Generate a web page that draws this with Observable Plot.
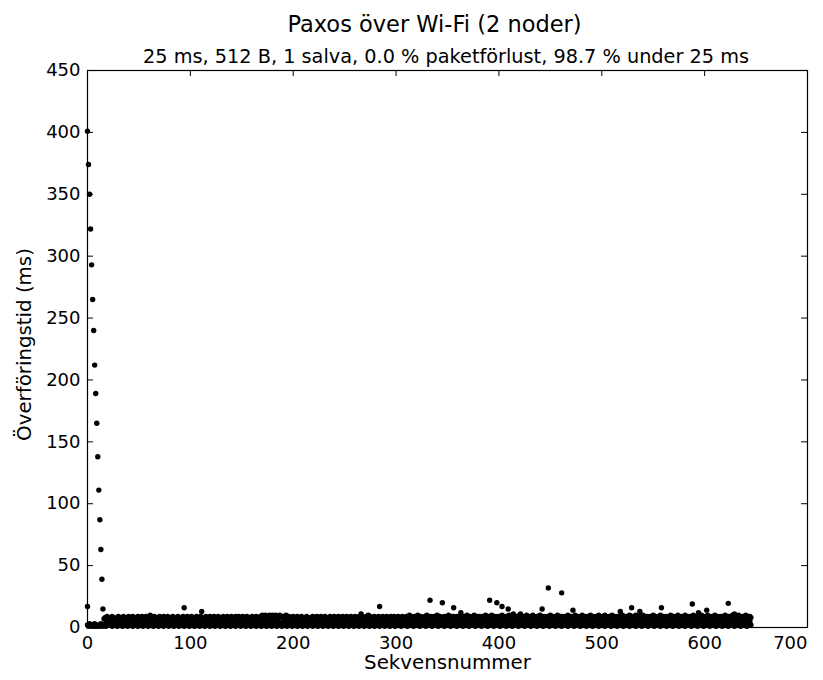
<!DOCTYPE html>
<html><head><meta charset="utf-8">
<script src="https://cdn.jsdelivr.net/npm/d3@7"></script>
<script src="https://cdn.jsdelivr.net/npm/@observablehq/plot@0.6"></script>
<style>
body{margin:0;background:#fff;font-family:"DejaVu Sans",sans-serif;}
#wrap{position:relative;width:823px;height:680px;overflow:hidden;}
.t{position:absolute;transform:translateX(-50%);color:#000;white-space:nowrap;line-height:1.2;}
#chart{position:absolute;left:0;top:0;}
</style></head><body>
<div id="wrap">
<div id="chart"></div>
<div class="t" style="left:434.5px;top:11px;font-size:22.5px;">Paxos över Wi-Fi (2 noder)</div>
<div class="t" style="left:446px;top:44.5px;font-size:19.3px;">25 ms, 512 B, 1 salva, 0.0 % paketförlust, 98.7 % under 25 ms</div>
</div>
<script>
// Decay of the first packets (x = 0..15)
const decay = [401, 374, 350, 322, 293, 265, 240, 212, 189, 165, 138, 111, 87, 63, 39, 15];
// Node A transfer times (ms), one character per sequence number (base 36, a = 10), starting at x = 16
const nodeA = [
"78697586978675968759685796879685796879586978596879",
"68579687958697586975869758697859687975869785968579",
"58697869587968579687958697859879685978695786958697",
"8697a98a979a89a98a978a99897a9897869785968796857968",
"68795869785968796857968795869785968795869785968797",
"59687958697869586978596879786987968795869786958a97",
"69789a87968798a986978969a8796879869a87969869798a96",
"978a969789a8796979897a98969a789869798a978969a87968",
"7989a869798a87968a987969a897986979a898697a98969789",
"8a979689a879869a9789697a8986979a89697a986979a89869",
"7989a869798a87968a987969a897986979a898697a98969789",
"8a979689a879869a9789697a8986979a89697a986979a89869",
"7989a869798a87968a987969a89798"
];
// Node B transfer times (ms), one digit per sequence number, starting at x = 0
const nodeB = [
"21321213121213212313425314253142531425314253152431",
"35241532415243152431425314253162431524314253162531",
"52431524314253142531624315243142531625315243152431",
"42531425316243152431425316253152431524314253142531",
"35241532415243152431425314253162431524314253162531",
"52431524314253142531624315243142531625315243152431",
"43526143526143526143526143526143526143526143526143",
"52614352614352614352614352614352614352614352614352",
"61435261435261435261435261435261435261435261435261",
"43526143526143526143526143526143526143526143526143",
"52614352614352614352614352614352614352614352614352",
"61435261435261435261435261435261435261435261435261",
"4352614352614352614352614352614352614352614352"
];
// Isolated higher points [sequence number, ms]
const outliers = [[0,17],[61,10],[94,16],[111,13],[266,11],[273,10],[284,17],[333,22],[345,20],[356,16],[363,12],[391,22],[398,20],[403,17],[409,15],[414,11],[421,11],[442,15],[448,32],[461,28],[472,14],[518,13],[529,16],[537,13],[558,16],[588,19],[594,12],[602,14],[623,19.5],[629,11]];
const xTicks = [0, 100, 200, 300, 400, 500, 600, 700];
const yTicks = [0, 50, 100, 150, 200, 250, 300, 350, 400, 450];

const pts = [];
decay.forEach((v, i) => pts.push({x: i, y: v}));
nodeA.join("").split("").forEach((c, i) => pts.push({x: 16 + i, y: parseInt(c, 36)}));
nodeB.join("").split("").forEach((c, i) => pts.push({x: i, y: parseInt(c, 36)}));
outliers.forEach(([x, y]) => pts.push({x, y}));

const innerY = yTicks.slice(1, -1);
const innerX = xTicks.slice(1, -1);
const lastX = xTicks.slice(-1);
const chart = Plot.plot({
  width: 823, height: 680,
  marginLeft: 87, marginRight: 16, marginTop: 70, marginBottom: 53,
  style: {fontFamily: "DejaVu Sans, sans-serif", fontSize: "18px", color: "#000", background: "#fff"},
  x: {domain: [0, 700]},
  y: {domain: [0, 450]},
  marks: [
    Plot.dot(pts, {x: "x", y: "y", r: 2.7, fill: "black", stroke: "none"}),
    Plot.ruleY(innerY, {y: d => d, x1: 0, x2: 5.8, stroke: "black"}),
    Plot.ruleY(innerY, {y: d => d, x1: 694.2, x2: 700, stroke: "black"}),
    Plot.ruleX(innerX, {x: d => d, y1: 0, y2: 4.9, stroke: "black"}),
    Plot.ruleX(innerX, {x: d => d, y1: 445.1, y2: 450, stroke: "black"}),
    Plot.frame({stroke: "black", strokeWidth: 1.2}),
    Plot.axisX(xTicks.slice(0, -1), {tickSize: 0, tickPadding: 9, label: null, fontSize: 18}),
    Plot.text(lastX, {x: d => d, y: 0, text: d => String(d), textAnchor: "end", lineAnchor: "top", dy: 9, fontSize: 18}),
    Plot.axisY(yTicks, {tickSize: 0, tickPadding: 7, label: null, fontSize: 18}),
    Plot.text(["Sekvensnummer"], {text: d => d, frameAnchor: "bottom", dy: 41, fontSize: 19.8}),
    Plot.text(["Överföringstid (ms)"], {text: d => d, frameAnchor: "left", textAnchor: "middle", rotate: -90, dx: -63, dy: -4.5, fontSize: 19.8})
  ]
});
document.getElementById("chart").appendChild(chart);
</script>
</body></html>
